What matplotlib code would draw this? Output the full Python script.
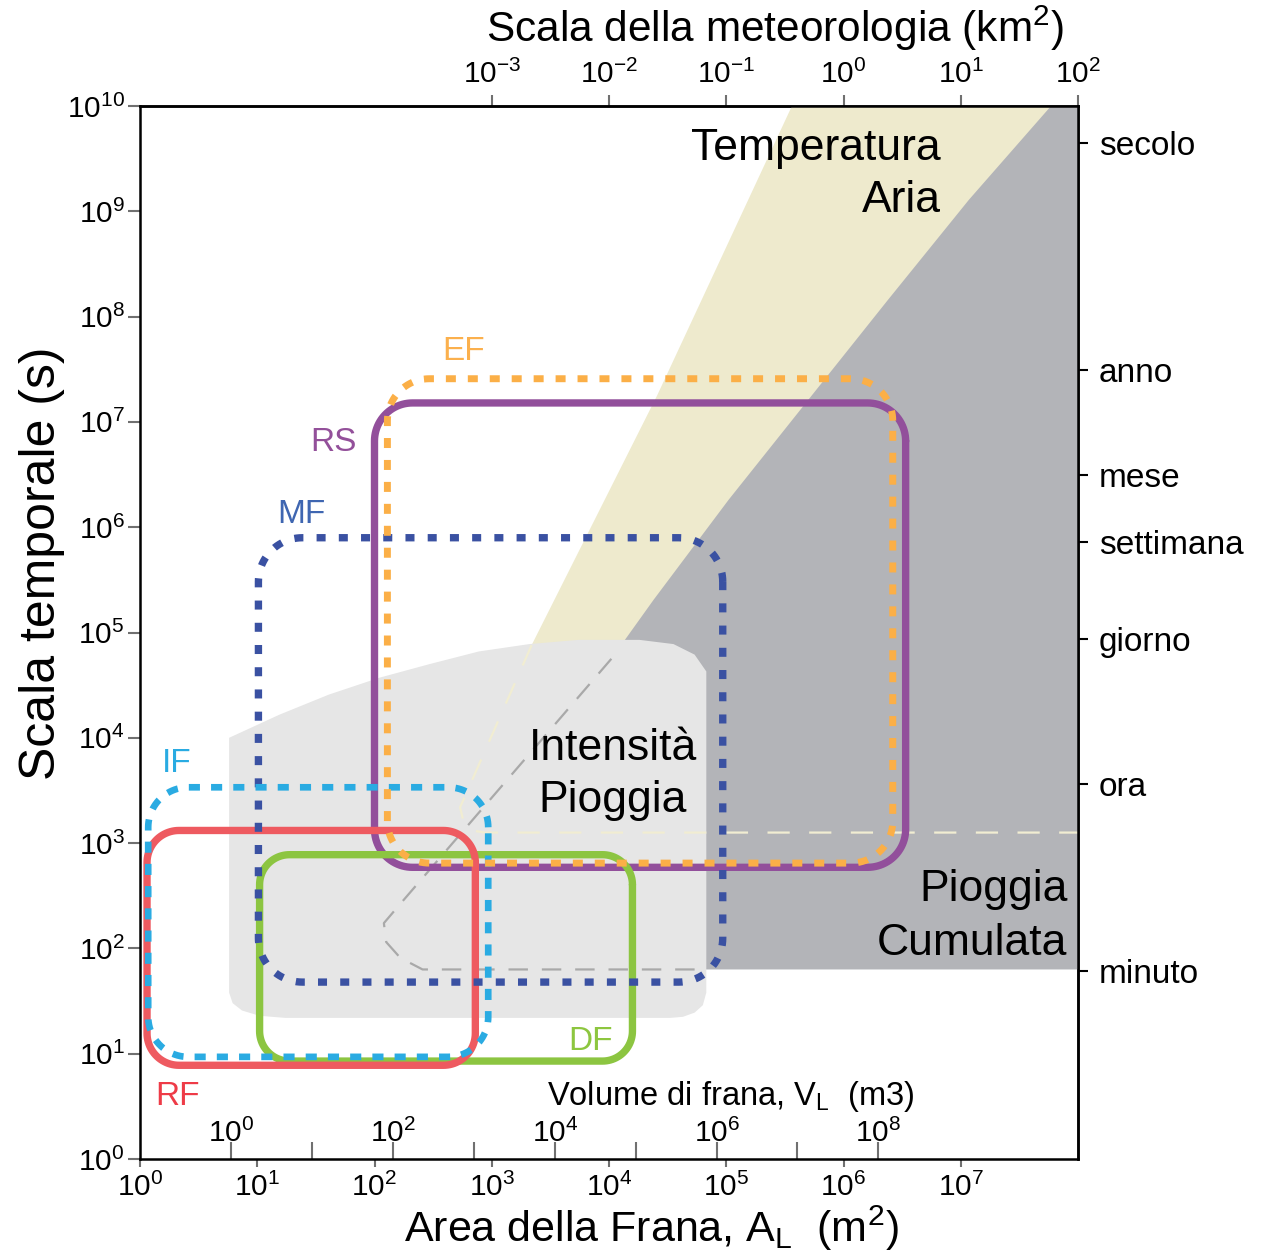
import numpy as np
import matplotlib
matplotlib.use('Agg')
import matplotlib.pyplot as plt

plt.rcParams['font.family'] = ['Liberation Sans', 'DejaVu Sans']
plt.rcParams['mathtext.fontset'] = 'custom'
plt.rcParams['mathtext.rm'] = 'Liberation Sans'
plt.rcParams['mathtext.it'] = 'Liberation Sans:italic'
plt.rcParams['mathtext.bf'] = 'Liberation Sans:bold'
plt.rcParams['lines.scale_dashes'] = False

# all region / box values are log10 of landslide area (m2) and of time (s)

# landslide types
box_names = ['RS', 'DF', 'RF', 'MF', 'IF', 'EF']
box_x0 = [2.00, 1.02, 0.06, 1.01, 0.07, 2.11]
box_x1 = [6.53, 4.20, 2.86, 4.97, 2.97, 6.42]
box_y0 = [2.77, 0.93, 0.89, 1.68, 0.97, 2.81]
box_y1 = [7.18, 2.89, 3.12, 5.90, 3.53, 7.41]

# temperature band (beige)
temp_lx = [5.56, 4.41, 3.34, 2.73, 2.76, 2.83, 2.94, 8.0, 8.0]
temp_ly = [10.0, 7.25, 4.88, 3.34, 3.20, 3.12, 3.10, 3.10, 10.0]

# cumulated rainfall (dark gray)
cum_lx = [7.77, 7.07, 6.38, 5.70, 5.02, 4.38, 4.02, 2.21, 2.08, 2.10, 2.22, 2.41, 4.83, 8.0, 8.0]
cum_ly = [10.0, 9.11, 8.16, 7.21, 6.26, 5.31, 4.75, 2.41, 2.24, 2.06, 1.91, 1.80, 1.80, 1.80, 10.0]

# rainfall intensity (light gray blob)
int_lx = [0.76, 0.76, 1.19, 1.61, 2.04, 2.47, 2.89, 3.32, 3.74, 4.26, 4.55, 4.73, 4.83,
          4.83, 4.80, 4.73, 4.63, 4.52, 1.24, 1.02, 0.87, 0.79]
int_ly = [1.58, 4.00, 4.22, 4.41, 4.57, 4.70, 4.82, 4.89, 4.93, 4.93, 4.89, 4.79, 4.63,
          1.58, 1.46, 1.39, 1.35, 1.34, 1.34, 1.36, 1.41, 1.48]

# right axis: characteristic times
time_names = ['secolo', 'anno', 'mese', 'settimana', 'giorno', 'ora', 'minuto']
time_log = [9.65, 7.49, 6.50, 5.86, 4.94, 3.56, 1.79]

# volume-area relation V = alpha * A^gamma
alpha = 0.074
gamma = 1.45

W, H = 1261, 1256
fig = plt.figure(figsize=(W / 100, H / 100), dpi=100)
ax = fig.add_axes([140 / W, 1 - 1159 / H, 938 / W, 1053 / H])
ax.set_xscale('log')
ax.set_yscale('log')
ax.set_xlim(1, 1e8)
ax.set_ylim(1, 1e10)

pxx = 938 / 8      # px per decade
pxy = 1053 / 10

def up(v):
    return 10 ** np.asarray(v, dtype=float)

# background regions
ax.fill(up(temp_lx), up(temp_ly), color='#eeeacd', lw=0, zorder=1)
ax.fill(up(cum_lx), up(cum_ly), color='#b3b4b8', lw=0, zorder=1.1)
ax.fill(up(int_lx), up(int_ly), color='#e6e6e6', lw=0, zorder=1.2)
# hidden outlines under the intensity region
ax.plot(up(cum_lx[6:13]), up(cum_ly[6:13]), color='#a9a9a9', lw=1.6,
        dashes=(14, 10), zorder=1.5)
ax.plot(up(temp_lx[2:8]), up(temp_ly[2:8]), color='#f1edd2', lw=1.6,
        dashes=(16, 14), zorder=1.5)


def rounded_box(x0, x1, y0, y1, r_px, n=24):
    rx, ry = r_px / pxx, r_px / pxy
    t = np.linspace(0, np.pi / 2, n)
    centers = [(x1 - rx, y1 - ry), (x0 + rx, y1 - ry), (x0 + rx, y0 + ry), (x1 - rx, y0 + ry)]
    parts = []
    for k, (cx, cy) in enumerate(centers):
        a = k * np.pi / 2 + t
        parts.append(np.column_stack([cx + rx * np.cos(a), cy + ry * np.sin(a)]))
    pts = np.vstack(parts + [parts[0][:1]])
    return up(pts[:, 0]), up(pts[:, 1])


box_style = {
    'RS': dict(color='#924f9b', lw=5.3, r=38, dashes=None),
    'DF': dict(color='#8cc541', lw=5.3, r=30, dashes=None),
    'RF': dict(color='#ee5a60', lw=5.3, r=32, dashes=None),
    'MF': dict(color='#3a51a2', lw=5.3, r=44, dashes=(6.5, 9.5)),
    'IF': dict(color='#2aabe2', lw=4.8, r=40, dashes=(8, 8)),
    'EF': dict(color='#fbaf47', lw=5.0, r=42, dashes=(7.2, 8.6)),
}
for i, name in enumerate(box_names):
    st = box_style[name]
    bx, by = rounded_box(box_x0[i], box_x1[i], box_y0[i], box_y1[i], st['r'])
    kw = dict(color=st['color'], lw=st['lw'], zorder=3 + i * 0.1,
              solid_capstyle='round')
    if st['dashes'] is not None:
        kw['dashes'] = st['dashes']
    ax.plot(bx, by, **kw)

# type labels
lab_fs = 24
ax.text(up(2.76), up(7.67), 'EF', color='#fbb04d', fontsize=lab_fs, ha='center', va='center')
ax.text(up(1.65), up(6.80), 'RS', color='#93509a', fontsize=lab_fs, ha='center', va='center')
ax.text(up(1.38), up(6.12), 'MF', color='#3f66b1', fontsize=lab_fs, ha='center', va='center')
ax.text(up(0.31), up(3.76), 'IF', color='#29abe2', fontsize=lab_fs, ha='center', va='center')
ax.text(up(0.32), up(0.59), 'RF', color='#ee3b47', fontsize=lab_fs, ha='center', va='center')
ax.text(up(3.84), up(1.12), 'DF', color='#8dc63f', fontsize=lab_fs, ha='center', va='center')

# region labels
big = 32
ax.text(up(6.83), up(9.6), 'Temperatura', fontsize=big, ha='right', va='center', zorder=5)
ax.text(up(6.83), up(9.1), 'Aria', fontsize=big, ha='right', va='center', zorder=5)
ax.text(up(4.03), up(3.9), 'Intensità', fontsize=big, ha='center', va='center', zorder=5)
ax.text(up(4.03), up(3.4), 'Pioggia', fontsize=big, ha='center', va='center', zorder=5)
ax.text(up(7.91), up(2.56), 'Pioggia', fontsize=big, ha='right', va='center', zorder=5)
ax.text(up(7.91), up(2.05), 'Cumulata', fontsize=big, ha='right', va='center', zorder=5)

# main axes
tick_fs = 21.5
ax.set_xticks(up(np.arange(0, 8)), [r'$\mathregular{10^{%d}}$' % k for k in range(8)])
ax.set_yticks(up(np.arange(0, 11)), [r'$\mathregular{10^{%d}}$' % k for k in range(11)])
ax.minorticks_off()
ax.tick_params(axis='x', direction='out', length=6, width=1.5, color='#707070',
               labelsize=tick_fs, pad=4)
ax.tick_params(axis='y', direction='out', length=9, width=1.5, color='#707070',
               labelsize=tick_fs, pad=2)
for sp in ax.spines.values():
    sp.set_linewidth(1.8)
ax.set_xlabel(r'Area della Frana, A$_\mathregular{L}$  (m$^\mathregular{2}$)', fontsize=31, va='center')
ax.xaxis.set_label_coords(0.545, -0.066)
ax.set_ylabel('Scala temporale (s)', fontsize=36, va='center')
ax.yaxis.set_label_coords(-0.105, 0.566)

# top axis: meteorological scale in km2
top = ax.secondary_xaxis('top', functions=(lambda a: a / 1e6, lambda k: k * 1e6))
top.set_xticks(up(np.arange(-3, 3)), [r'$\mathregular{10^{%d}}$' % k for k in range(-3, 3)])
top.minorticks_off()
top.tick_params(axis='x', direction='out', length=8, width=1.5, color='#707070',
                labelsize=tick_fs, pad=4)
top.spines['top'].set_linewidth(1.8)
ax.text(0.677, 1.074, r'Scala della meteorologia (km$^\mathregular{2}$)', fontsize=30.5,
        ha='center', va='center', transform=ax.transAxes)

# right axis: time names
right = ax.secondary_yaxis('right')
right.set_yticks(up(time_log), time_names)
right.minorticks_off()
right.tick_params(axis='y', direction='out', length=7, width=1.5, color='black',
                  labelsize=24, pad=8)
right.spines['right'].set_linewidth(1.8)


# inner volume axis along the bottom
def a2v(a):
    return alpha * np.clip(a, 1e-300, None) ** gamma


def v2a(v):
    return (np.clip(v, 1e-300, None) / alpha) ** (1 / gamma)


vol = ax.secondary_xaxis(0.0, functions=(a2v, v2a))
vol.set_xticks(up(np.arange(0, 9)),
               [r'$\mathregular{10^{%d}}$' % k if k % 2 == 0 else '' for k in range(9)])
vol.minorticks_off()
vol.xaxis.set_ticks_position('top')
vol.tick_params(axis='x', which='both', top=True, labeltop=True, bottom=False,
                labelbottom=False, direction='out', length=12, width=1.5,
                color='#707070', labelsize=tick_fs, pad=-4)
for sp in vol.spines.values():
    sp.set_visible(False)
ax.text(0.630, 0.059, r'Volume di frana, V$_\mathregular{L}$  (m3)', fontsize=23.5,
        ha='center', va='center', transform=ax.transAxes)

fig.savefig('out.png', dpi=100)
